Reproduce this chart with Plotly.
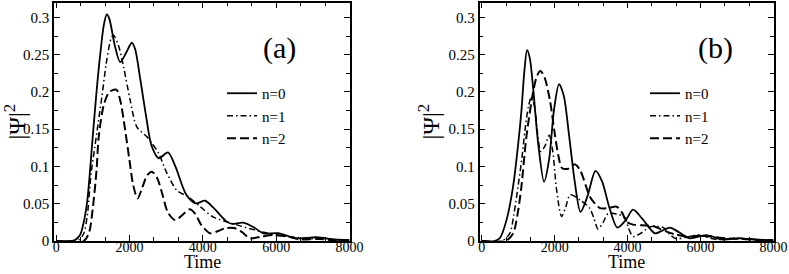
import plotly.graph_objects as go

# ---------------- data ----------------
# Panel (a)
ta_n0 = [0, 400, 500, 650, 750, 850, 1000, 1100, 1200, 1300, 1380, 1450, 1600, 1745, 1900, 2063, 2150,
         2300, 2450, 2600, 2800, 3050, 3250, 3550, 3800, 4063, 4300, 4650, 4800, 5100, 5400, 5650,
         6050, 6550, 7100, 7600, 8000]
va_n0 = [0, 0, 0.001, 0.008, 0.025, 0.055, 0.142, 0.2, 0.25, 0.29, 0.304, 0.298, 0.262, 0.240, 0.252,
         0.266, 0.258, 0.215, 0.168, 0.128, 0.111, 0.119, 0.1, 0.062, 0.0505, 0.054, 0.044, 0.026,
         0.023, 0.0246, 0.018, 0.0103, 0.0105, 0.0036, 0.005, 0.002, 0.001]

ta_n1 = [0, 600, 750, 850, 950, 1050, 1150, 1250, 1380, 1500, 1564, 1700, 1836, 2018, 2200, 2473,
         2600, 2790, 3020, 3290, 3610, 3930, 4290, 4840, 5400, 6000, 6500, 7000, 7500, 8000]
va_n1 = [0, 0.001, 0.01, 0.035, 0.09, 0.125, 0.16, 0.195, 0.243, 0.272, 0.276, 0.262, 0.234, 0.189,
         0.153, 0.14, 0.132, 0.118, 0.091, 0.068, 0.059, 0.046, 0.032, 0.023, 0.015, 0.008, 0.005,
         0.003, 0.002, 0.001]

ta_n2 = [0, 750, 900, 1000, 1100, 1160, 1300, 1450, 1640, 1750, 1880, 2000, 2100, 2220, 2350, 2480,
         2610, 2750, 2900, 3050, 3250, 3400, 3640, 3800, 3950, 4200, 4400, 4600, 4850, 5050, 5290,
         5600, 5950, 6300, 6700, 7100, 7500, 8000]
va_n2 = [0, 0, 0.012, 0.045, 0.095, 0.14, 0.183, 0.2, 0.203, 0.188, 0.149, 0.108, 0.075, 0.057, 0.072,
         0.088, 0.093, 0.085, 0.062, 0.038, 0.028, 0.033, 0.0425, 0.036, 0.022, 0.0103, 0.013, 0.017,
         0.0175, 0.0125, 0.0036, 0.006, 0.008, 0.006, 0.002, 0.003, 0.0015, 0.001]

# Panel (b)
tb_n0 = [0, 350, 500, 680, 860, 1000, 1090, 1170, 1245, 1320, 1420, 1550, 1710, 1850, 1980, 2120,
         2250, 2400, 2550, 2710, 2900, 3120, 3300, 3500, 3720, 3950, 4150, 4400, 4750, 4950, 5160,
         5400, 5700, 6160, 6600, 7080, 7500, 8000]
vb_n0 = [0, 0, 0.004, 0.028, 0.073, 0.13, 0.175, 0.228, 0.256, 0.245, 0.2, 0.13, 0.0795, 0.11, 0.175,
         0.2105, 0.195, 0.14, 0.08, 0.039, 0.06, 0.094, 0.08, 0.045, 0.018, 0.028, 0.042, 0.03, 0.0103,
         0.014, 0.018, 0.012, 0.0036, 0.008, 0.002, 0.0036, 0.002, 0.001]

tb_n1 = [0, 550, 768, 880, 996, 1100, 1188, 1280, 1363, 1450, 1530, 1620, 1740, 1850, 1950, 2050,
         2190, 2300, 2430, 2700, 2960, 3080, 3190, 3330, 3470, 3700, 3920, 4020, 4150, 4350, 4620,
         4980, 5150, 5340, 5600, 5900, 6450, 6950, 7500, 8000]
vb_n1 = [0, 0, 0.01, 0.035, 0.073, 0.11, 0.149, 0.18, 0.1935, 0.18, 0.145, 0.12, 0.128, 0.142, 0.12,
         0.07, 0.033, 0.045, 0.062, 0.055, 0.044, 0.03, 0.016, 0.025, 0.037, 0.036, 0.032, 0.018,
         0.006, 0.01, 0.019, 0.018, 0.009, 0.003, 0.005, 0.008, 0.002, 0.004, 0.002, 0.001]

tb_n2 = [0, 650, 860, 980, 1089, 1226, 1410, 1520, 1610, 1720, 1870, 2003, 2100, 2200, 2370, 2550,
         2700, 2850, 2970, 3245, 3450, 3700, 3850, 3970, 4150, 4400, 4700, 4900, 5070, 5300, 5620,
         5950, 6260, 6600, 7000, 7500, 8000]
vb_n2 = [0, 0, 0.01, 0.035, 0.073, 0.14, 0.2, 0.222, 0.228, 0.22, 0.189, 0.144, 0.115, 0.098, 0.097,
         0.103, 0.095, 0.075, 0.059, 0.044, 0.044, 0.046, 0.038, 0.026, 0.022, 0.021, 0.02, 0.016,
         0.0125, 0.009, 0.006, 0.007, 0.006, 0.004, 0.003, 0.0015, 0.001]

labels = ["n=0", "n=1", "n=2"]
panel_labels = ["(a)", "(b)"]
x_title = "Time"
y_title = "|Ψ|<sup>2</sup>"

# ---------------- figure ----------------
SERIF = "Liberation Serif"
styles = [dict(dash="solid", width=1.8),
          dict(dash="6px,3px,1.5px,3px", width=1.5),
          dict(dash="9px,4px", width=2.0)]

fig = go.Figure()
panels = [
    ("x", "y", "legend", [(ta_n0, va_n0), (ta_n1, va_n1), (ta_n2, va_n2)]),
    ("x2", "y2", "legend2", [(tb_n0, vb_n0), (tb_n1, vb_n1), (tb_n2, vb_n2)]),
]
for xa, ya, lg, series in panels:
    for (t, v), lab, st in zip(series, labels, styles):
        fig.add_trace(go.Scatter(
            x=t, y=v, mode="lines", name=lab, xaxis=xa, yaxis=ya, legend=lg,
            line=dict(color="black", shape="spline", smoothing=0.8, **st),
        ))

W, H = 789, 274
axis_common = dict(
    showline=True, linecolor="black", linewidth=1.5, mirror="allticks",
    ticks="inside", ticklen=6, tickwidth=1.3, tickcolor="black",
    showgrid=False, zeroline=False, automargin=False,
    tickfont=dict(family=SERIF, size=15, color="black"),
)
xcommon = dict(axis_common, range=[-60, 8000], tick0=0, dtick=2000, ticklabelstandoff=-8,
               tickfont=dict(family=SERIF, size=14, color="black"),
               minor=dict(dtick=2000 / 3, ticks="inside", ticklen=4, tickcolor="black", tickwidth=1.2))
ycommon = dict(axis_common, range=[0, 0.32], tick0=0, dtick=0.05,
               minor=dict(dtick=0.025, ticks="inside", ticklen=4, tickcolor="black", tickwidth=1.2),
               title=dict(text=y_title, font=dict(family=SERIF, size=24, color="black"), standoff=2))

ydom = [1 - 241 / H, 1 - 2.5 / H]
fig.update_layout(
    width=W, height=H, margin=dict(l=0, r=0, t=0, b=0, autoexpand=False),
    paper_bgcolor="white", plot_bgcolor="white",
    xaxis=dict(xcommon, domain=[54 / W, 349.5 / W], anchor="y"),
    yaxis=dict(ycommon, domain=ydom, anchor="x"),
    xaxis2=dict(xcommon, domain=[479.5 / W, 773.5 / W], anchor="y2"),
    yaxis2=dict(ycommon, domain=ydom, anchor="x2"),
    legend=dict(x=222 / W, y=1 - 116 / H, xanchor="left", yanchor="middle",
                bgcolor="rgba(0,0,0,0)", font=dict(family=SERIF, size=15, color="black")),
    legend2=dict(x=645 / W, y=1 - 116 / H, xanchor="left", yanchor="middle",
                 bgcolor="rgba(0,0,0,0)", font=dict(family=SERIF, size=15, color="black")),
    showlegend=True,
)
for lab, xc in zip(panel_labels, [279 / W, 715 / W]):
    fig.add_annotation(text=lab, x=xc, y=1 - 48 / H, xref="paper", yref="paper",
                       xanchor="center", yanchor="middle",
                       showarrow=False, font=dict(family=SERIF, size=30, color="black"))
for xc in [202 / W, 626 / W]:
    fig.add_annotation(text=x_title, x=xc, y=0, xref="paper", yref="paper",
                       xanchor="center", yanchor="bottom",
                       showarrow=False, font=dict(family=SERIF, size=18, color="black"))

fig.write_html("out.html", config={"displayModeBar": False},
               post_script="document.body.style.margin='0px';")
